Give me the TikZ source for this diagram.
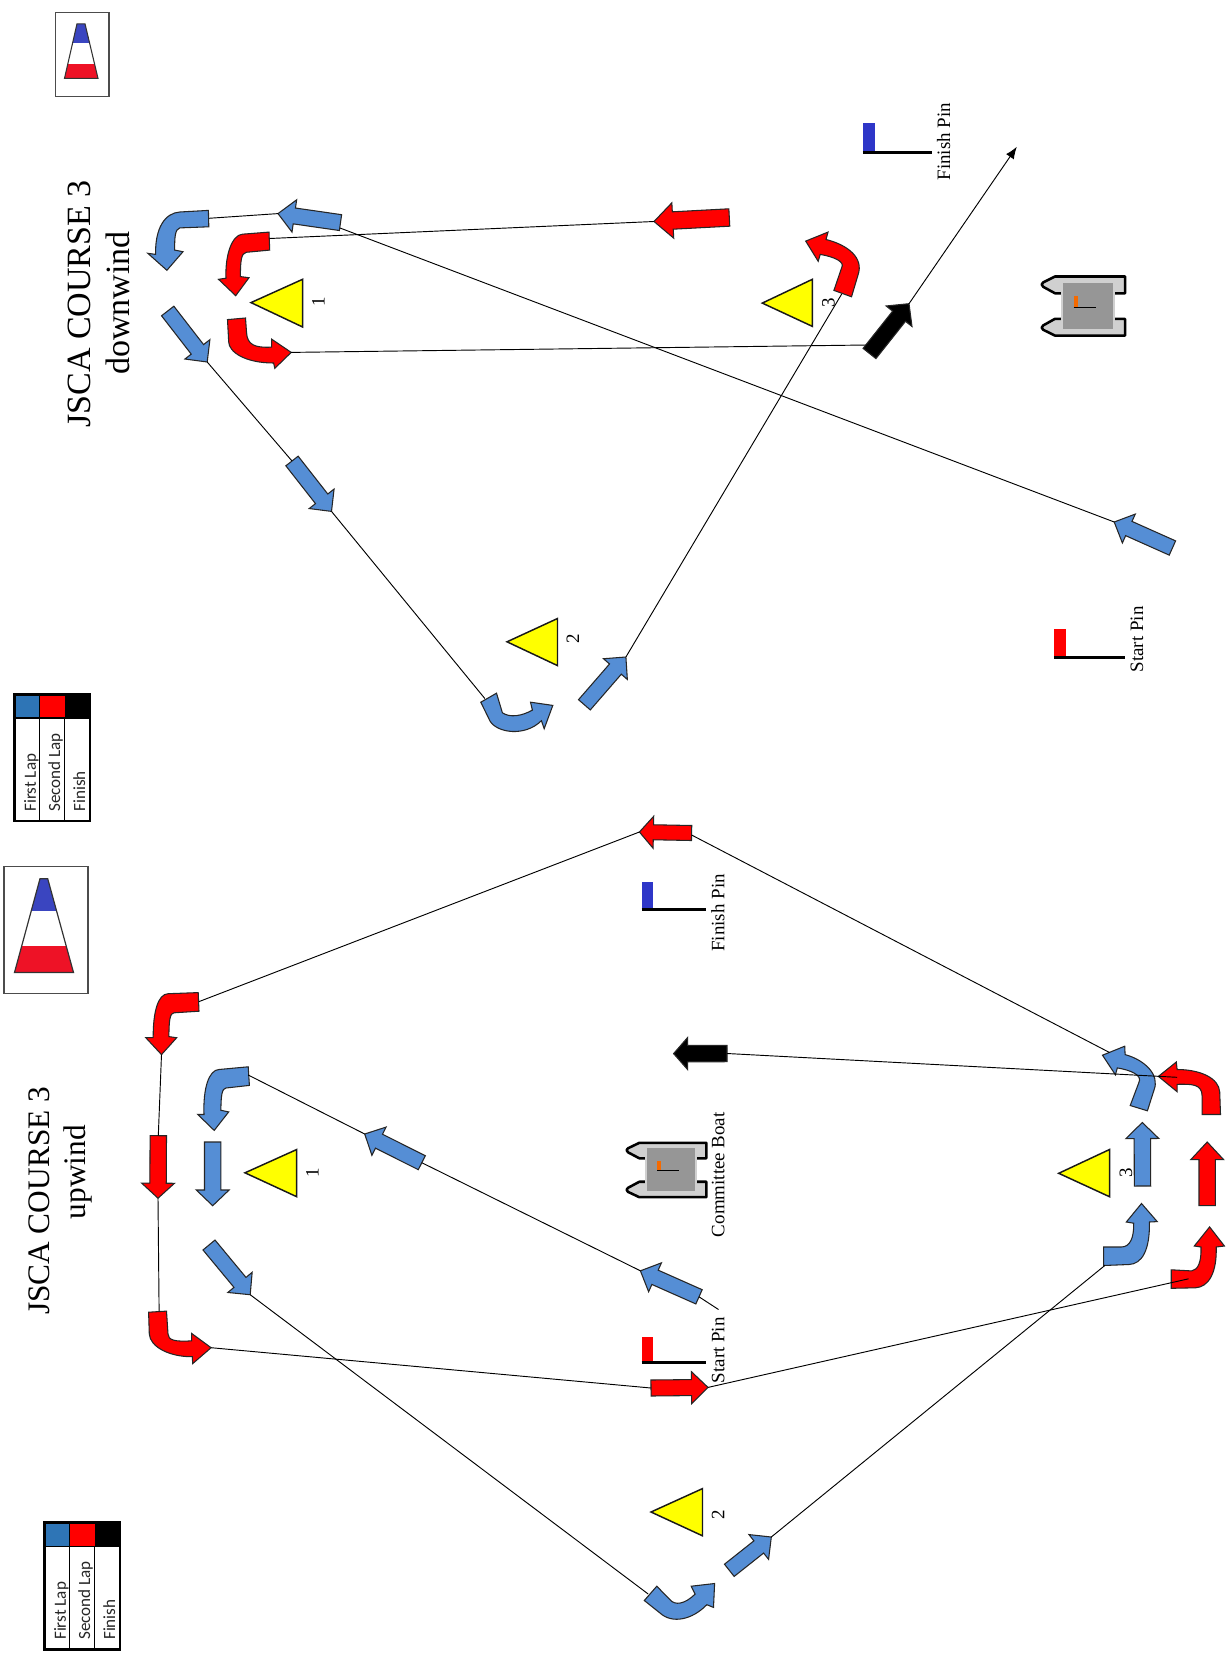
\documentclass[tikz,border=0pt]{standalone}
\usepackage{fontspec}
\setmainfont{Liberation Serif}
\newfontfamily\legendfont{Carlito}
\usetikzlibrary{calc,arrows.meta}
\definecolor{lapblue}{HTML}{558ED5}
\definecolor{headblue}{HTML}{2E75B6}
\definecolor{lapred}{HTML}{FF0000}
\definecolor{markyellow}{HTML}{FFFF00}
\definecolor{pinblue}{HTML}{2E36C8}
\definecolor{coneblue}{HTML}{3A45C0}
\definecolor{conered}{HTML}{EE1226}
\definecolor{boatlight}{HTML}{D0D0D0}
\definecolor{boatdeck}{HTML}{969696}
\definecolor{boatflag}{HTML}{F56A00}
\tikzset{
  shapearrow/.style={draw=black!85,line width=0.8pt,line join=miter},
  bluearrow/.style={shapearrow,fill=lapblue},
  redarrow/.style={shapearrow,fill=lapred},
  blackarrow/.style={shapearrow,fill=black},
  course/.style={draw=black,line width=0.7pt},
  markbuoy/.style={draw=black!90,line width=1.1pt,fill=markyellow},
  pinpole/.style={draw=black,line width=2.2pt},
  titletext/.style={rotate=90,anchor=base,inner sep=0pt,align=center},
  smalltext/.style={rotate=90,anchor=base,inner sep=0pt,font=\fontsize{14.2}{16}\selectfont},
  legendtext/.style={rotate=90,anchor=base west,inner sep=0pt,font=\legendfont\fontsize{12.8}{14}\selectfont,text=black!85},
  frameline/.style={draw=black!70,line width=0.9pt,fill=white},
}
% name, style, tail, tip, half shaft, half head, head length
\newcommand\blockarrow[7]{%
  \coordinate (#1t) at (#3);
  \coordinate (#1h) at (#4);
  \coordinate (#1b) at ($(#1h)!#7*0.75pt!(#1t)$);
  \path[#2] ($(#1t)!#5*0.75pt!90:(#1h)$)
    -- ($(#1b)!#5*0.75pt!-90:(#1t)$)
    -- ($(#1b)!#6*0.75pt!-90:(#1t)$)
    -- (#1h)
    -- ($(#1b)!#6*0.75pt!90:(#1t)$)
    -- ($(#1b)!#5*0.75pt!90:(#1t)$)
    -- ($(#1t)!#5*0.75pt!-90:(#1h)$)
    -- cycle;
}
% x, y of top-left corner
\newcommand\legendtable[3]{%
  \begin{scope}[shift={(#2,#3)}]
    \fill[headblue] (0,0) rectangle (25,23.5);
    \fill[lapred] (25,0) rectangle (50,23.5);
    \fill[black] (50,0) rectangle (75.7,23.5);
    \draw[line width=0.9pt] (25,0) -- (25,126.6) (50,23.5) -- (50,126.6) (0,23.5) -- (75.7,23.5);
    \draw[line width=1.9pt] (0,0) rectangle (75.7,126.6);
    \node[legendtext] (#1a) at (21.4,117.3) {First Lap};
    \node[legendtext] (#1b) at (45.7,117.3) {Second Lap};
    \node[legendtext] (#1c) at (70.7,117.3) {Finish};
  \end{scope}
}
% x, y of corner, flag colour, flag w, flag h, pole length
\newcommand\pinflag[6]{%
  \fill[#3] (#1,#2) rectangle ++(#4,#5);
  \draw[pinpole] (#1,#2+#5+1.6) -- ++(#6,0);
}
\newcommand\boatshape[4]{%
  \begin{scope}[shift={(#1,#2)},xscale=#3,yscale=#4]
    \draw[fill=boatlight,line width=1.9pt,line join=round] (14,0.9) -- (84,0.9) -- (84,17.7) -- (14,17.7) -- (2.2,11.2) .. controls (0.2,9.5) and (0.2,8) .. (2.2,6.8) -- cycle;
    \draw[fill=boatlight,line width=1.9pt,line join=round] (14,43.2) -- (84,43.2) -- (84,60) -- (14,60) -- (2.2,54.2) .. controls (0.2,52.8) and (0.2,51.2) .. (2.2,49.8) -- cycle;
    \draw[draw=boatlight,fill=boatdeck,line width=1.4pt] (21.3,6) rectangle (73,54.4);
    \fill[boatflag] (32.7,20.4) rectangle (37,31);
    \draw[line width=0.7pt] (32.7,31.4) -- (55,31.4);
  \end{scope}
}
\begin{document}
\begin{tikzpicture}[x=0.75pt,y=-0.75pt]
\useasboundingbox[fill=white] (0,0) rectangle (1226,1662);

% ---------- cones ----------
\draw[frameline] (55.5,12.7) rectangle (109,96.4);
\begin{scope}
  \clip (77,23.8) -- (85,23.8) -- (98,78.4) -- (64.5,78.4) -- cycle;
  \fill[coneblue] (60,20) rectangle (100,43.5);
  \fill[conered] (60,63.6) rectangle (100,80);
\end{scope}
\draw[line width=0.8pt,draw=black!80] (77,23.8) -- (85,23.8) -- (98,78.4) -- (64.5,78.4) -- cycle;

\draw[frameline] (3.9,866.5) rectangle (88,993.7);
\begin{scope}
  \clip (40,878.7) -- (47.7,878.7) -- (73.5,972.5) -- (14.5,972.5) -- cycle;
  \fill[coneblue] (10,875) rectangle (80,910.5);
  \fill[conered] (10,946) rectangle (80,975);
\end{scope}
\draw[line width=0.9pt,draw=black!80] (40,878.7) -- (47.7,878.7) -- (73.5,972.5) -- (14.5,972.5) -- cycle;

% ---------- legends ----------
\legendtable{lega}{14.5}{694.5}
\legendtable{legb}{44.5}{1522.7}

% ---------- titles ----------
\node[titletext,font=\fontsize{25.5}{28}\selectfont] (titleA) at (90.7,304) {JSCA COURSE 3};
\node[titletext,font=\fontsize{25.5}{28}\selectfont] (titleB) at (129,302.8) {downwind};
\node[titletext,font=\fontsize{23.5}{26}\selectfont] (titleC) at (49.5,1200.9) {JSCA COURSE 3};
\node[titletext,font=\fontsize{23.5}{26}\selectfont] (titleD) at (85,1172.3) {upwind};

% ---------- marks ----------
\draw[markbuoy] (251,302.6) -- (302.6,279.3) -- (302.6,327) -- cycle;
\draw[markbuoy] (507,641.8) -- (557.5,618.5) -- (557.5,665.6) -- cycle;
\draw[markbuoy] (762.3,303.1) -- (812.4,279.3) -- (812.4,326.4) -- cycle;
\draw[markbuoy] (245,1172.8) -- (296.7,1149.5) -- (296.7,1196.7) -- cycle;
\draw[markbuoy] (651,1512) -- (702.5,1488.6) -- (702.5,1535.8) -- cycle;
\draw[markbuoy] (1058.7,1173.3) -- (1109.5,1149.5) -- (1109.5,1196.7) -- cycle;
\node[smalltext] (numA) at (324.5,302) {1};
\node[smalltext] (numB) at (579,639) {2};
\node[smalltext] (numC) at (834.6,303) {3};
\node[smalltext] (numD) at (318.6,1172.8) {1};
\node[smalltext] (numE) at (724.4,1514.6) {2};
\node[smalltext] (numF) at (1132,1172.8) {3};

% ---------- pins and boats ----------
\pinflag{862.9}{123.5}{pinblue}{12.1}{27.5}{69.2}
\pinflag{1053.9}{628.5}{lapred}{12.4}{27.5}{71.4}
\pinflag{641.5}{882.4}{pinblue}{11.5}{25.4}{64.5}
\pinflag{641.5}{1336.6}{lapred}{11.5}{24.4}{64.5}
\node[smalltext] (pinA) at (950,141.8) {Finish Pin};
\node[smalltext] (pinB) at (1143,639.4) {Start Pin};
\node[smalltext] (pinC) at (724.4,912.9) {Finish Pin};
\node[smalltext] (pinD) at (724.4,1350.3) {Start Pin};
\node[smalltext] (cboat) at (724.4,1174.7) {Committee Boat};
\boatshape{1041}{275.6}{1}{1}
\boatshape{625.9}{1142}{0.958}{0.92}

% ---------- straight block arrows: upper course ----------
\blockarrow{aA}{bluearrow}{340.5,222.6}{278,213.6}{8}{16.3}{16.5}
\blockarrow{aB}{bluearrow}{167.7,311}{207.2,362}{7.8}{15.8}{16}
\blockarrow{aC}{bluearrow}{292,461}{331.5,511.4}{7.8}{15.8}{16}
\blockarrow{aD}{bluearrow}{584.4,704.8}{625.9,657}{7.8}{15.8}{16}
\blockarrow{aE}{bluearrow}{1172.4,548}{1114.2,522}{7.8}{15.8}{16}
\blockarrow{aF}{redarrow}{729.3,217.5}{654,221.5}{8.7}{17.7}{18.8}
\blockarrow{aG}{blackarrow}{869.5,353.5}{909,303.7}{8.2}{16.5}{16}

% ---------- straight block arrows: lower course ----------
\blockarrow{bA}{redarrow}{691.6,833}{639.4,832}{7.5}{16}{14}
\blockarrow{bB}{blackarrow}{727,1053.5}{673.6,1053.6}{8.2}{16}{14}
\blockarrow{bC}{bluearrow}{699,1296.8}{640.4,1270.8}{7.8}{15.8}{16}
\blockarrow{bD}{redarrow}{651,1388}{708,1387.4}{8}{16}{16.5}
\blockarrow{bE}{bluearrow}{729.3,1570.3}{771.3,1537}{7.8}{15.8}{16}
\blockarrow{bF}{bluearrow}{1142.5,1186}{1142.3,1122.5}{8.2}{16.4}{16}
\blockarrow{bG}{redarrow}{1207.2,1205.7}{1207.2,1142}{8.2}{16.4}{17.6}
\blockarrow{bH}{redarrow}{158.3,1135.7}{158,1198.2}{8.2}{16.4}{15}
\blockarrow{bI}{bluearrow}{212.7,1142}{212.7,1205.7}{8.2}{16.4}{15.7}
\blockarrow{bJ}{bluearrow}{209,1245}{250.2,1294.7}{7.8}{15.8}{16}
\blockarrow{bK}{bluearrow}{421.8,1162.7}{364.7,1134}{7.8}{15.8}{16}

% ---------- curved block arrows: upper course ----------
\path[bluearrow] (208.4,210.4) -- (179.8,212) .. controls (165,213) and (155,228) .. (155.6,254.4) -- (147.8,253.3) -- (166.9,270.3) -- (183,251.7) -- (174.7,250.1) .. controls (174.5,238) and (175,229) .. (179.8,227.9) -- (208.8,226.8) -- cycle;
\path[redarrow] (269,232.1) -- (242.4,234.2) .. controls (232,235) and (225,255) .. (226,278.2) -- (218.5,279.3) -- (235.7,295.7) -- (249,277.7) -- (240.4,276.6) .. controls (240.4,262) and (241,253) .. (246.3,252.3) -- (269.7,250.1) -- cycle;
\path[redarrow] (227.5,319.6) -- (228.7,342) .. controls (229,352) and (245,363) .. (273.6,363) -- (274.8,368.3) -- (291.2,352.4) -- (271.7,339.2) -- (271.7,347.1) .. controls (255,348) and (247,345) .. (246.5,332) -- (245.5,318) -- cycle;
\path[bluearrow] (480.8,702.2) -- (490,721) .. controls (497,733) and (525,737) .. (541.4,720.7) -- (544.2,728.7) -- (552.8,705.4) -- (530.5,702.2) -- (532.4,710.1) .. controls (522,716) and (510,718) .. (502.4,712.8) -- (496.5,693.2) -- cycle;
\path[redarrow] (833.9,290.4) -- (851.5,296.8) -- (858,275) .. controls (864,258) and (848,245) .. (826,239.5) -- (828,232.1) -- (805.7,241.1) -- (818.2,261.3) -- (820.2,254.4) .. controls (835,257) and (845,262) .. (841.7,267.6) -- cycle;

% ---------- curved block arrows: lower course ----------
\path[redarrow] (198.2,992.6) -- (168.1,993.7) .. controls (158,994) and (153,1012) .. (153.2,1037.7) -- (145.8,1037.7) -- (161.5,1054.6) -- (176.7,1037.7) -- (168.9,1036.6) .. controls (169,1020) and (170,1013) .. (174,1012.8) -- (199,1011.2) -- cycle;
\path[bluearrow] (248.2,1066.8) -- (218.9,1069.5) .. controls (209,1070) and (203,1088) .. (204,1114.5) -- (197.8,1114.5) -- (214.2,1130.4) -- (228.7,1111.9) -- (220.9,1110.3) .. controls (221,1095) and (222,1088.5) .. (226,1088) -- (249.4,1085.4) -- cycle;
\path[redarrow] (148.6,1312.2) -- (149.3,1334) .. controls (150,1347) and (170,1357) .. (192.3,1356.7) -- (192.7,1363.6) -- (211.1,1347.7) -- (191.6,1333.4) -- (191.6,1340.8) .. controls (175,1342) and (168,1340) .. (168,1334) -- (166.5,1311.1) -- cycle;
\path[bluearrow] (1130.2,1105.5) -- (1147.4,1110.8) -- (1154,1090) .. controls (1160,1075) and (1145,1060) .. (1125.1,1054.6) -- (1124.7,1046.2) -- (1102.5,1055.2) -- (1115.4,1074.8) -- (1117.3,1067.9) .. controls (1130,1070) and (1143,1075) .. (1138.8,1082.7) -- cycle;
\path[redarrow] (1202.1,1114.5) -- (1220.5,1114.5) -- (1219.7,1092) .. controls (1219,1078) and (1200,1069.5) .. (1177.1,1069.5) -- (1176.3,1062) -- (1158.4,1076.4) -- (1177.1,1091.7) -- (1177.1,1084.3) .. controls (1192,1084) and (1202,1084) .. (1202.1,1096) -- cycle;
\path[bluearrow] (1103.6,1247) -- (1103.6,1265.5) -- (1129,1264.5) .. controls (1142,1264) and (1150,1250) .. (1149.4,1222) -- (1157.2,1221.6) -- (1141.5,1203.5) -- (1126.3,1222) -- (1133.7,1223.2) .. controls (1134,1238) and (1130,1247) .. (1121.2,1247) -- cycle;
\path[redarrow] (1171.2,1269.8) -- (1171.2,1288.3) -- (1195.5,1287.8) .. controls (1209,1287) and (1217,1272) .. (1216.2,1247) -- (1224.4,1246) -- (1209.6,1226.9) -- (1194.3,1246) -- (1201,1247) .. controls (1201.5,1262) and (1198,1270) .. (1191.6,1270.9) -- cycle;
\path[bluearrow] (644.3,1600.5) -- (660,1613) .. controls (672,1624) and (692,1620) .. (706.8,1604.7) -- (713.5,1607.4) -- (714.6,1583.5) -- (691.2,1586.2) -- (695.1,1594.1) .. controls (685,1604) and (675,1606) .. (669.7,1599.4) -- (656.8,1586.2) -- cycle;

% ---------- connector ends on curved arrows and free ends ----------
\coordinate (cUa) at (208.8,218.3);
\coordinate (cUb) at (269.7,238.5);
\coordinate (cUc) at (291.2,352.4);
\coordinate (cUd) at (484.8,698.5);
\coordinate (cUe) at (841.7,294);
\coordinate (cUf) at (867.1,345);
\coordinate (cUg) at (1016.8,146.8);
\coordinate (cUh) at (340,228);
\coordinate (cLa) at (199,1001.6);
\coordinate (cLb) at (161.5,1054.6);
\coordinate (cLc) at (159.1,1311);
\coordinate (cLd) at (211.1,1347.7);
\coordinate (cLe) at (248.2,1075);
\coordinate (cLf) at (648.2,1594);
\coordinate (cLg) at (1109.5,1052.5);
\coordinate (cLh) at (1177.1,1077.3);
\coordinate (cLi) at (1188.5,1278.8);
\coordinate (cLj) at (1104.8,1265.5);
\coordinate (cLk) at (718.5,1309.5);
\coordinate (cLm) at (691.6,835);

% ---------- connectors: upper course ----------
\draw[course] (aEh) -- (cUh);
\draw[course] (aAh) -- (cUa);
\draw[course] (aFh) -- (cUb);
\draw[course] (cUc) -- (cUf);
\draw[course] (aBh) -- (aCt);
\draw[course] (aCh) -- (cUd);
\draw[course] (aDh) -- (cUe);
\draw[course,-{Latex[length=9pt,width=7pt]}] (aGh) -- (cUg);

% ---------- connectors: lower course ----------
\draw[course] (cLm) -- (cLg);
\draw[course] (bAh) -- (cLa);
\draw[course] (cLb) -- (bHt);
\draw[course] (bHh) -- (cLc);
\draw[course] (cLd) -- (bDt);
\draw[course] (bDh) -- (cLi);
\draw[course] (cLj) -- (bEh);
\draw[course] (bJh) -- (cLf);
\draw[course] (cLe) -- (bKh);
\draw[course] (bKt) -- (bCh);
\draw[course] (bCt) -- (cLk);
\draw[course] (bBt) -- (cLh);
\end{tikzpicture}
\end{document}
